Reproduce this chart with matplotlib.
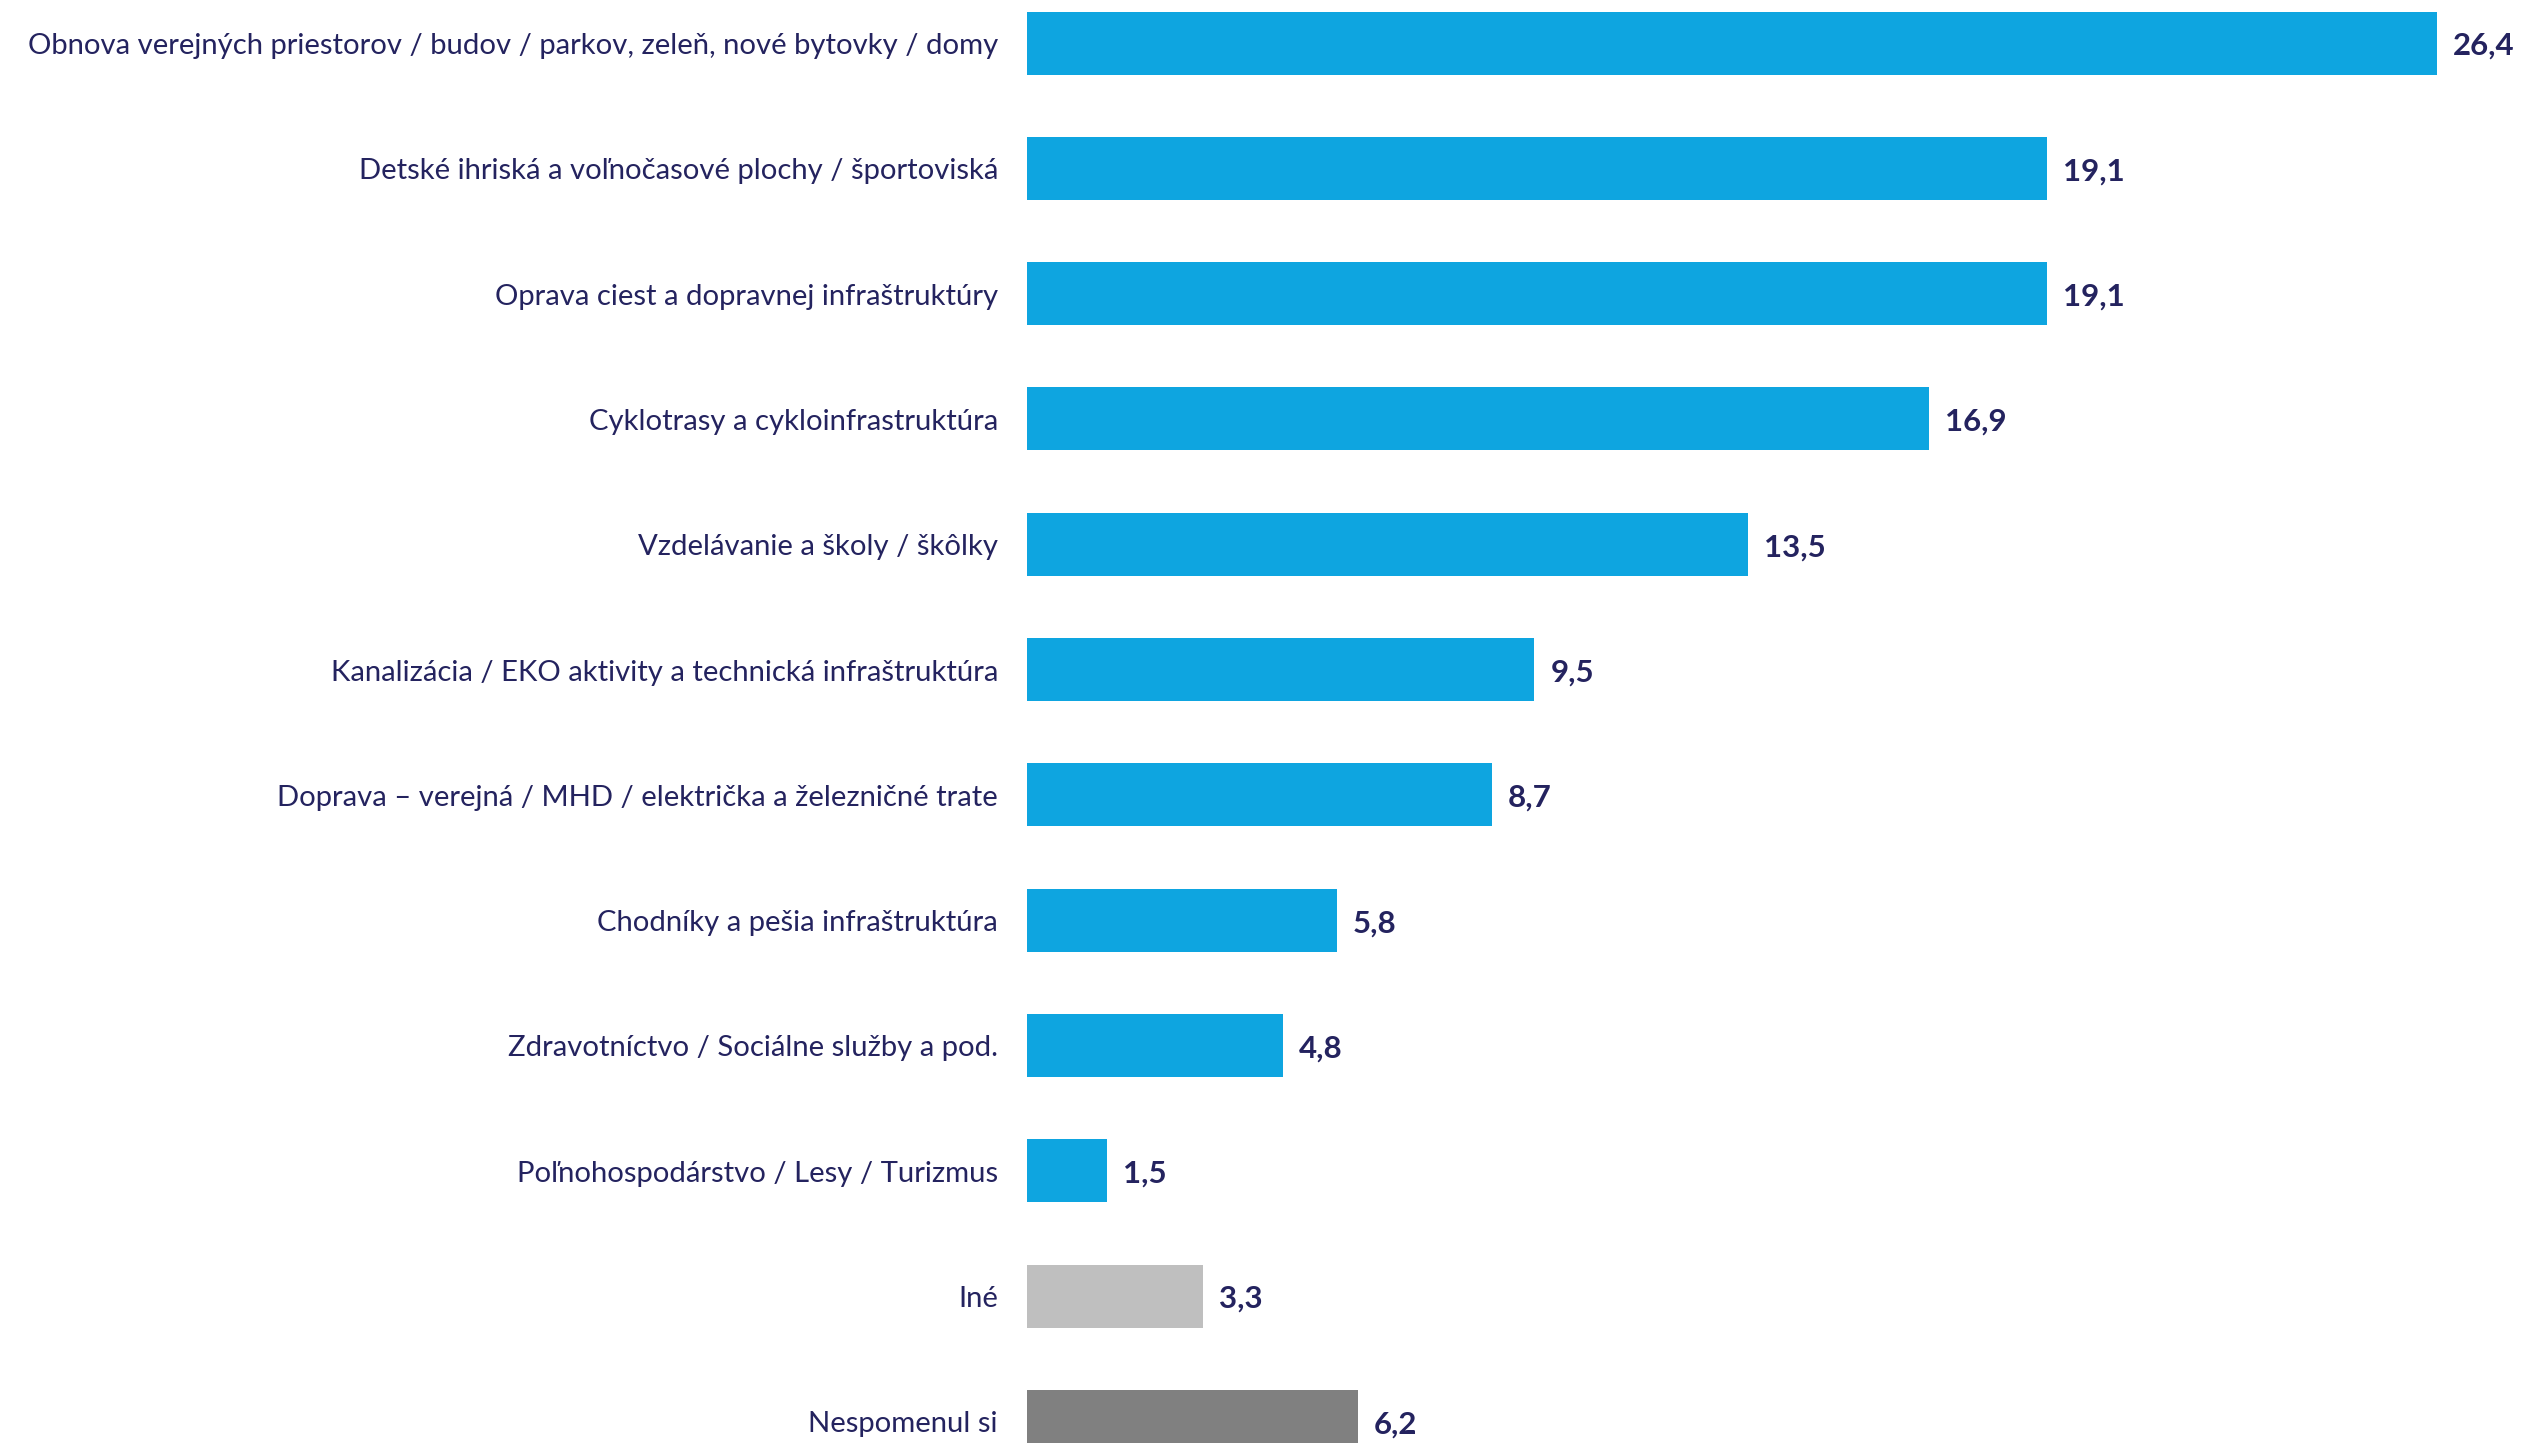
import matplotlib
matplotlib.use("Agg")
import matplotlib.pyplot as plt
from matplotlib import transforms

categories = [
    "Obnova verejných priestorov / budov / parkov, zeleň, nové bytovky / domy",
    "Detské ihriská a voľnočasové plochy / športoviská",
    "Oprava ciest a dopravnej infraštruktúry",
    "Cyklotrasy a cykloinfrastruktúra",
    "Vzdelávanie a školy / škôlky",
    "Kanalizácia / EKO aktivity a technická infraštruktúra",
    "Doprava – verejná / MHD / električka a železničné trate",
    "Chodníky a pešia infraštruktúra",
    "Zdravotníctvo / Sociálne služby a pod.",
    "Poľnohospodárstvo / Lesy / Turizmus",
    "Iné",
    "Nespomenul si",
]
values = [26.4, 19.1, 19.1, 16.9, 13.5, 9.5, 8.7, 5.8, 4.8, 1.5, 3.3, 6.2]
value_labels = ["26,4", "19,1", "19,1", "16,9", "13,5", "9,5", "8,7", "5,8", "4,8", "1,5", "3,3", "6,2"]

BLUE = "#0EA5E0"
colors = [BLUE] * 10 + ["#BFBFBF", "#808080"]
TEXT = "#24235F"

W, H = 2524, 1443
fig = plt.figure(figsize=(W / 100, H / 100), dpi=100)
left_px = 1027
ax = fig.add_axes([left_px / W, 0, 1 - left_px / W, 1])
px_per_unit = 53.4
row = 125.3
c0 = 43
ax.set_xlim(0, (W - left_px) / px_per_unit)
ax.set_ylim((H - c0) / row, -c0 / row)

ypos = list(range(len(categories)))
ax.barh(ypos, values, height=63 / row, color=colors)
ax.axis("off")

lab_off = transforms.offset_copy(ax.transData, fig=fig, x=-29, y=-3, units="dots")
val_off = transforms.offset_copy(ax.transData, fig=fig, x=16, y=-3, units="dots")
for y, cat, v, vl in zip(ypos, categories, values, value_labels):
    ax.text(0, y, cat, transform=lab_off, ha="right", va="center",
            fontsize=21.1, color=TEXT, family="Lato", clip_on=False)
    ax.text(v, y, vl, transform=val_off, ha="left", va="center",
            fontsize=22.5, color=TEXT, family="Lato", fontweight="bold", clip_on=False)

fig.savefig("out.png", dpi=100)
